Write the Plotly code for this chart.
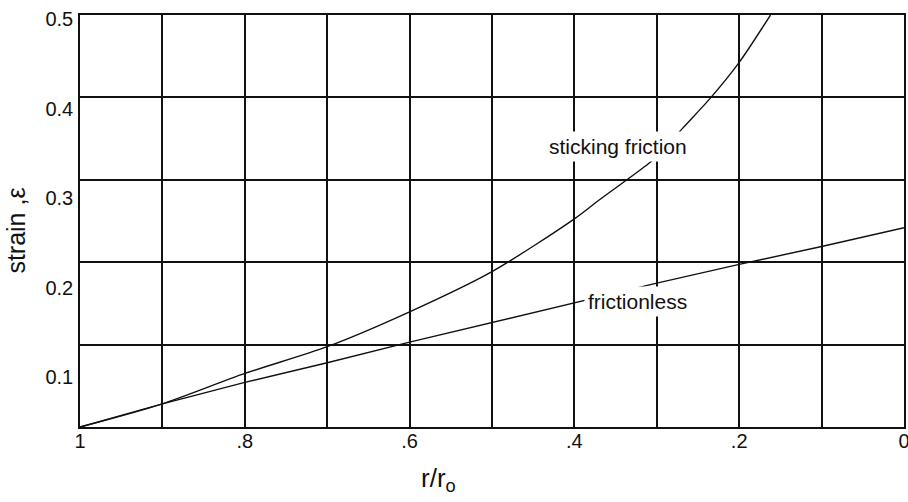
import plotly.graph_objects as go


###############################################################################
#                    Datos                                #
###############################################################################

# r/r0 (eje x invertido, de 1 a 0)
r_frictionless = [1.0, 0.9, 0.8, 0.7, 0.6, 0.5, 0.4, 0.3, 0.2, 0.1, 0.0]
eps_frictionless = [0.044, 0.070, 0.094, 0.116, 0.139, 0.161, 0.183,
                    0.205, 0.226, 0.246, 0.267]

r_sticking = [1.0, 0.9, 0.8, 0.7, 0.6, 0.5, 0.4, 0.37, 0.311, 0.3,
              0.268, 0.235, 0.2, 0.162]
eps_sticking = [0.044, 0.070, 0.104, 0.134, 0.173, 0.218, 0.277, 0.298,
                0.338, 0.347, 0.379, 0.412, 0.452, 0.505]

# Ticks
x_ticks = [1.0, 0.8, 0.6, 0.4, 0.2, 0.0]
x_labels = ["1", ".8", ".6", ".4", ".2", "0"]
y_ticks = [0.1, 0.2, 0.3, 0.4, 0.5]
y_labels = ["0.1", "0.2", "0.3", "0.4", "0.5"]

# La rejilla horizontal no coincide con las etiquetas: 5 divisiones iguales
grid_rows = [0, 1, 2, 3, 4, 5]


###############################################################################
#                             Figura                                          #
###############################################################################

FONT = "Liberation Sans, Arial, Helvetica, sans-serif"
INK = "#111111"

fig = go.Figure()

fig.add_trace(go.Scatter(
    x=r_frictionless, y=eps_frictionless,
    mode="lines",
    line=dict(color=INK, width=1.4),
    name="frictionless",
    showlegend=False
))

fig.add_trace(go.Scatter(
    x=r_sticking, y=eps_sticking,
    mode="lines",
    line=dict(color=INK, width=1.4, shape="spline", smoothing=0.8),
    name="sticking friction",
    showlegend=False
))

# traza vacía para que exista el eje de la rejilla
fig.add_trace(go.Scatter(x=[None], y=[None], yaxis="y2", showlegend=False,
                         hoverinfo="skip"))

# Etiquetas de las curvas (fondo blanco que tapa rejilla y curva)
fig.add_annotation(x=0.347, y=0.358, text="sticking friction",
                   xanchor="center", yanchor="middle",
                   showarrow=False, bgcolor="white", borderpad=3,
                   font=dict(family=FONT, size=21, color=INK))
fig.add_annotation(x=0.323, y=0.185, text="frictionless",
                   xanchor="center", yanchor="middle",
                   showarrow=False, bgcolor="white", borderpad=3,
                   font=dict(family=FONT, size=21, color=INK))

# Títulos de ejes
fig.add_annotation(x=0.4345, y=-0.128, xref="paper", yref="paper",
                   xanchor="center", yanchor="middle",
                   text="r/r<sub>o</sub>", showarrow=False,
                   font=dict(family=FONT, size=26, color=INK))
fig.add_annotation(x=-0.078, y=0.476, xref="paper", yref="paper",
                   xanchor="center", yanchor="middle",
                   text="strain ,ε", textangle=-90, showarrow=False,
                   font=dict(family=FONT, size=25, color=INK))

fig.update_layout(
    width=908, height=502,
    margin=dict(l=80, r=4, t=15, b=75),
    paper_bgcolor="white",
    plot_bgcolor="white",
    font=dict(family=FONT, size=20, color=INK),
    xaxis=dict(
        range=[1.0, 0.0],
        tickvals=x_ticks, ticktext=x_labels,
        tickfont=dict(family=FONT, size=20, color=INK),
        ticklabeloverflow="allow",
        showgrid=True, gridcolor=INK, gridwidth=1.5,
        minor=dict(tick0=0, dtick=0.1, showgrid=True,
                   gridcolor=INK, gridwidth=1.5, ticks=""),
        showline=True, linecolor=INK, linewidth=1.5, mirror=True,
        ticks="", ticklabelstandoff=-5,
        zeroline=False, automargin=False,
    ),
    yaxis=dict(
        range=[0.0441, 0.505],
        tickvals=y_ticks, ticktext=y_labels,
        tickfont=dict(family=FONT, size=20, color=INK),
        ticklabeloverflow="allow",
        showgrid=False,
        showline=True, linecolor=INK, linewidth=1.5, mirror=True,
        ticks="", ticklabelstandoff=1,
        zeroline=False, automargin=False,
    ),
    yaxis2=dict(
        range=[0, 5], overlaying="y", side="right",
        tickvals=grid_rows, showticklabels=False,
        showgrid=True, gridcolor=INK, gridwidth=1.5,
        zeroline=False, showline=False, ticks="", automargin=False,
    ),
)

# sin margen en el body para que la figura ocupe la ventana
fig.write_html("out.html",
               config={"displayModeBar": False},
               post_script="document.body.style.margin='0';"
                           "document.body.style.overflow='hidden';")
